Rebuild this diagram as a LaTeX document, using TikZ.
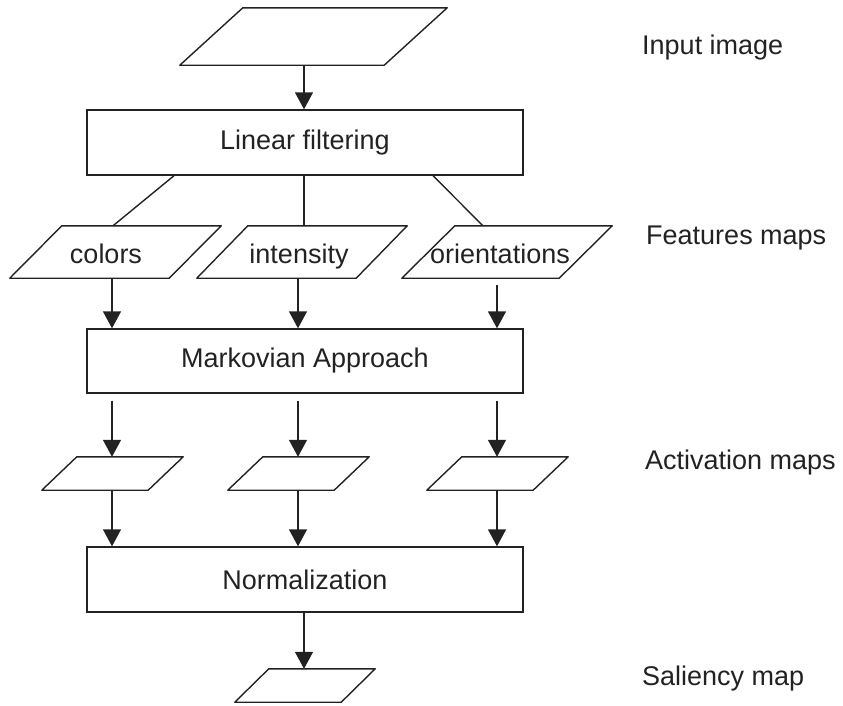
\documentclass[tikz,border=0pt]{standalone}
\usepackage{fontspec}
\setmainfont{Liberation Sans}
\usetikzlibrary{arrows.meta,calc}
\definecolor{ink}{HTML}{222222}
\tikzset{
  box/.style={draw=ink, line width=1.4pt, rectangle, minimum width=436pt, inner sep=0pt, font=\fontsize{27}{30}\selectfont, text=ink},
  pbox/.style={rectangle, inner sep=0pt, font=\fontsize{27}{30}\selectfont, text=ink},
  ptext/.style={anchor=base, inner sep=0pt, font=\fontsize{27}{30}\selectfont, text=ink},
  lbl/.style={anchor=west, inner sep=0pt, font=\fontsize{27}{30}\selectfont, text=ink},
  arr/.style={draw=ink, line width=1.4pt, -{Triangle[width=18pt,length=17pt]}},
  ln/.style={draw=ink, line width=1.4pt},
  pline/.style={draw=ink, line width=1.4pt, line join=round}
}
\newcommand{\parash}[2]{\draw[pline] ($(#1.north west)+(#2,0)$) -- (#1.north east) -- ($(#1.south east)-(#2,0)$) -- (#1.south west) -- cycle;}
\begin{document}
\begin{tikzpicture}[x=1pt,y=-1pt]
\useasboundingbox (0,0) rectangle (843,705);
% parallelograms (text holders)
\node[pbox, minimum width=267pt, minimum height=57pt] (in) at (313.5,36.5) {};
\node[pbox, minimum width=211pt, minimum height=52pt] (col) at (115.5,252) {};
\node[pbox, minimum width=210pt, minimum height=52pt] (int) at (302,252) {};
\node[pbox, minimum width=210pt, minimum height=52pt] (ori) at (507,252) {};
\node[pbox, minimum width=141pt, minimum height=33pt] (a1) at (112.5,473.5) {};
\node[pbox, minimum width=141pt, minimum height=33pt] (a2) at (298.5,473.5) {};
\node[pbox, minimum width=141pt, minimum height=33pt] (a3) at (497.5,473.5) {};
\node[pbox, minimum width=140pt, minimum height=33pt] (sal) at (305,685.5) {};
\parash{in}{63}
\parash{col}{52}
\parash{int}{51}
\parash{ori}{53}
\parash{a1}{35}
\parash{a2}{35}
\parash{a3}{35}
\parash{sal}{34}
\node[ptext] (tcol) at (106,263) {colors};
\node[ptext] (tint) at (299,263) {intensity};
\node[ptext] (tori) at (500,263) {orientations};
% boxes
\node[box, minimum height=65pt] (lf) at (305,142.5) {Linear filtering};
\node[box, minimum height=64pt] (mk) at (305,361) {Markovian Approach};
\node[box, minimum height=65pt] (nm) at (305,579.5) {Normalization};
% labels
\node[lbl] (l1) at (642,48) {Input image};
\node[lbl] (l2) at (646,238) {Features maps};
\node[lbl] (l3) at (645,463) {Activation maps};
\node[lbl] (l4) at (642,679) {Saliency map};
% connectors
\draw[arr] ([xshift=-9.5pt]in.south) -- ([xshift=-1pt]lf.north);
\draw[ln] ([xshift=-131pt]lf.south) -- ([xshift=-2.5pt]col.north);
\draw[ln] ([xshift=-1pt]lf.south) -- ([xshift=2pt]int.north);
\draw[ln] ([xshift=128pt]lf.south) -- ([xshift=-24pt]ori.north);
\draw[arr] ([xshift=-3.5pt]col.south) -- ([xshift=-193pt]mk.north);
\draw[arr] ([xshift=-4pt]int.south) -- ([xshift=-7pt]mk.north);
\draw[arr] ([xshift=-10pt,yshift=-7pt]ori.south) -- ([xshift=192pt]mk.north);
\draw[arr] ([xshift=-193pt,yshift=-7pt]mk.south) -- ([xshift=-0.5pt]a1.north);
\draw[arr] ([xshift=-7pt,yshift=-7pt]mk.south) -- ([xshift=-0.5pt]a2.north);
\draw[arr] ([xshift=192pt,yshift=-7pt]mk.south) -- ([xshift=-0.5pt]a3.north);
\draw[arr] ([xshift=-0.5pt]a1.south) -- ([xshift=-193pt]nm.north);
\draw[arr] ([xshift=-0.5pt]a2.south) -- ([xshift=-7pt]nm.north);
\draw[arr] ([xshift=-0.5pt]a3.south) -- ([xshift=192pt]nm.north);
\draw[arr] ([xshift=-1pt]nm.south) -- ([xshift=-1pt]sal.north);
\end{tikzpicture}
\end{document}
